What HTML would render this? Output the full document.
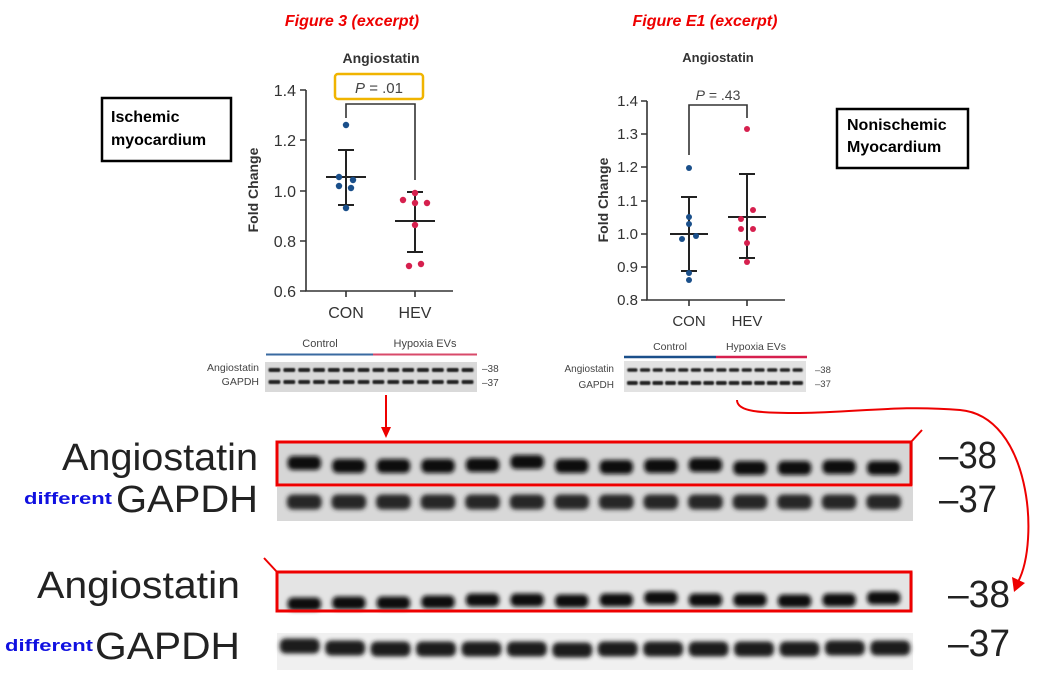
<!DOCTYPE html>
<html><head><meta charset="utf-8"><style>
html,body{margin:0;padding:0;background:#fff}
svg{display:block}
text{font-family:"Liberation Sans",Arial,sans-serif}
</style></head><body>
<svg id="s" width="1061" height="678" viewBox="0 0 1061 678" xmlns="http://www.w3.org/2000/svg">
<defs>
<filter id="b1" x="-20%" y="-50%" width="140%" height="200%"><feGaussianBlur stdDeviation="2.2"/></filter>
<filter id="b0" x="-20%" y="-50%" width="140%" height="200%"><feGaussianBlur stdDeviation="0.8"/></filter>
</defs>
<text x="352" y="26" font-size="16" font-weight="bold" font-style="italic" fill="#e00" text-anchor="middle">Figure 3 (excerpt)</text>
<text x="705" y="26" font-size="16" font-weight="bold" font-style="italic" fill="#e00" text-anchor="middle">Figure E1 (excerpt)</text>

<rect x="102" y="98" width="129" height="63" fill="#fff" stroke="#000" stroke-width="2.5"/>
<text x="111" y="122" font-size="16" font-weight="bold">Ischemic</text>
<text x="111" y="145" font-size="16" font-weight="bold">myocardium</text>
<rect x="837" y="109" width="131" height="59" fill="#fff" stroke="#000" stroke-width="2.5"/>
<text x="847" y="130" font-size="16" font-weight="bold">Nonischemic</text>
<text x="847" y="152" font-size="16" font-weight="bold">Myocardium</text>

<g stroke="#333" stroke-width="1.6" fill="none">
<path d="M306 90 V291 H453"/>
<path d="M300 90 H306 M300 140 H306 M300 191 H306 M300 241 H306 M300 291 H306"/>
<path d="M346 291 V297 M415 291 V297"/>
<path d="M346 118 V104 H415 V180"/>
</g>
<g font-size="16" fill="#333" text-anchor="end">
<text x="296" y="96">1.4</text><text x="296" y="146">1.2</text><text x="296" y="197">1.0</text><text x="296" y="247">0.8</text><text x="296" y="297">0.6</text>
</g>
<text x="346" y="318" font-size="16" fill="#333" text-anchor="middle">CON</text>
<text x="415" y="318" font-size="16" fill="#333" text-anchor="middle">HEV</text>
<text x="381" y="63" font-size="14" font-weight="bold" fill="#333" text-anchor="middle">Angiostatin</text>
<text transform="translate(258,190) rotate(-90)" font-size="14" font-weight="bold" fill="#333" text-anchor="middle">Fold Change</text>
<rect x="335" y="74" width="88" height="25" rx="3" fill="none" stroke="#f0b400" stroke-width="2.5"/>
<text x="379" y="93" font-size="15" fill="#444" text-anchor="middle"><tspan font-style="italic">P</tspan> = .01</text>
<g stroke="#222" stroke-width="2" fill="none">
<path d="M346 150 V205 M338 150 H354 M326 177 H366 M338 205 H354"/>
<path d="M415 192 V252 M407 192 H423 M395 221 H435 M407 252 H423"/>
</g>
<g fill="#1a4f8a">
<circle cx="346" cy="125" r="3.2"/><circle cx="339" cy="177" r="3.2"/><circle cx="353" cy="180" r="3.2"/>
<circle cx="339" cy="186" r="3.2"/><circle cx="351" cy="188" r="3.2"/><circle cx="346" cy="208" r="3.2"/>
</g>
<g fill="#d6204e">
<circle cx="415" cy="193" r="3.2"/><circle cx="403" cy="200" r="3.2"/><circle cx="415" cy="203" r="3.2"/>
<circle cx="427" cy="203" r="3.2"/><circle cx="415" cy="225" r="3.2"/><circle cx="409" cy="266" r="3.2"/><circle cx="421" cy="264" r="3.2"/>
</g>

<g stroke="#333" stroke-width="1.6" fill="none">
<path d="M647 101 V300 H785"/>
<path d="M641 101 H647 M641 134 H647 M641 167 H647 M641 201 H647 M641 234 H647 M641 267 H647 M641 300 H647"/>
<path d="M689 300 V306 M747 300 V306"/>
<path d="M689 155 V105 H747 V118"/>
</g>
<g font-size="15" fill="#333" text-anchor="end">
<text x="638" y="106">1.4</text><text x="638" y="139">1.3</text><text x="638" y="172">1.2</text><text x="638" y="206">1.1</text><text x="638" y="239">1.0</text><text x="638" y="272">0.9</text><text x="638" y="305">0.8</text>
</g>
<text x="689" y="326" font-size="15" fill="#333" text-anchor="middle">CON</text>
<text x="747" y="326" font-size="15" fill="#333" text-anchor="middle">HEV</text>
<text x="718" y="62" font-size="13" font-weight="bold" fill="#333" text-anchor="middle">Angiostatin</text>
<text transform="translate(608,200) rotate(-90)" font-size="14" font-weight="bold" fill="#333" text-anchor="middle">Fold Change</text>
<text x="718" y="100" font-size="14" fill="#444" text-anchor="middle"><tspan font-style="italic">P</tspan> = .43</text>
<g stroke="#222" stroke-width="2" fill="none">
<path d="M689 197 V271 M681 197 H697 M670 234 H708 M681 271 H697"/>
<path d="M747 174 V258 M739 174 H755 M728 217 H766 M739 258 H755"/>
</g>
<g fill="#1a4f8a">
<circle cx="689" cy="168" r="3"/><circle cx="689" cy="217" r="3"/><circle cx="689" cy="224" r="3"/>
<circle cx="682" cy="239" r="3"/><circle cx="696" cy="236" r="3"/><circle cx="689" cy="273" r="3"/><circle cx="689" cy="280" r="3"/>
</g>
<g fill="#d6204e">
<circle cx="747" cy="129" r="3"/><circle cx="741" cy="219" r="3"/><circle cx="753" cy="210" r="3"/>
<circle cx="741" cy="229" r="3"/><circle cx="753" cy="229" r="3"/><circle cx="747" cy="243" r="3"/><circle cx="747" cy="262" r="3"/>
</g>

<text x="320" y="347" font-size="11" fill="#444" text-anchor="middle">Control</text>
<text x="425" y="347" font-size="11" fill="#444" text-anchor="middle">Hypoxia EVs</text>
<path d="M266 354.5 H373" stroke="#3a6aa0" stroke-width="2"/><path d="M373 354.5 H477" stroke="#d84a6a" stroke-width="2"/>
<text x="259" y="371" font-size="10.5" fill="#444" text-anchor="end">Angiostatin</text>
<text x="259" y="385" font-size="10.5" fill="#444" text-anchor="end">GAPDH</text>
<text x="482" y="372" font-size="10" fill="#444">–38</text><text x="482" y="386" font-size="10" fill="#444">–37</text>

<text x="670" y="350" font-size="10.5" fill="#444" text-anchor="middle">Control</text>
<text x="756" y="350" font-size="10.5" fill="#444" text-anchor="middle">Hypoxia EVs</text>
<path d="M624 357 H716" stroke="#1a4f8a" stroke-width="2.5"/><path d="M716 357 H807" stroke="#d6204e" stroke-width="2.5"/>
<text x="614" y="372" font-size="10" fill="#444" text-anchor="end">Angiostatin</text>
<text x="614" y="388" font-size="10" fill="#444" text-anchor="end">GAPDH</text>
<text x="815" y="373" font-size="9.5" fill="#444">–38</text><text x="815" y="387" font-size="9.5" fill="#444">–37</text>

<g id="blots"></g>

<g fill="#222">
<text x="62" y="470" font-size="38" textLength="196" lengthAdjust="spacingAndGlyphs">Angiostatin</text>
<text x="116" y="512" font-size="38" textLength="142" lengthAdjust="spacingAndGlyphs">GAPDH</text>
<text x="939" y="468" font-size="38" textLength="58" lengthAdjust="spacingAndGlyphs">–38</text>
<text x="939" y="512" font-size="38" textLength="58" lengthAdjust="spacingAndGlyphs">–37</text>
<text x="37" y="598" font-size="38" textLength="203" lengthAdjust="spacingAndGlyphs">Angiostatin</text>
<text x="95" y="659" font-size="38" textLength="145" lengthAdjust="spacingAndGlyphs">GAPDH</text>
<text x="948" y="607" font-size="38" textLength="62" lengthAdjust="spacingAndGlyphs">–38</text>
<text x="948" y="656" font-size="38" textLength="62" lengthAdjust="spacingAndGlyphs">–37</text>
</g>
<text x="24" y="504" font-size="17" font-weight="bold" fill="#1010e0" textLength="88" lengthAdjust="spacingAndGlyphs">different</text>
<text x="5" y="651" font-size="17" font-weight="bold" fill="#1010e0" textLength="88" lengthAdjust="spacingAndGlyphs">different</text>

<rect x="277" y="442" width="634" height="43" fill="none" stroke="#e00" stroke-width="3"/>
<rect x="277" y="572" width="634" height="39" fill="none" stroke="#e00" stroke-width="3"/>
<path d="M911 442 L922 430" stroke="#e00" stroke-width="2"/>
<path d="M264 558 L277 572" stroke="#e00" stroke-width="2"/>
<path d="M386 395 V428" stroke="#e00" stroke-width="2"/>
<path d="M381 427 L386 438 L391 427 Z" fill="#e00"/>
<path d="M737 400 C737 412 760 413 800 413 C860 412 900 405 960 410 C1030 416 1040 540 1018 582" stroke="#e00" stroke-width="2" fill="none"/>
<path d="M1012 577 L1014 592 L1025 583 Z" fill="#e00"/>
</svg>
<script>
(function(){
var g=document.getElementById('blots'),NS='http://www.w3.org/2000/svg';
function el(t,a){var e=document.createElementNS(NS,t);for(var k in a)e.setAttribute(k,a[k]);g.appendChild(e);return e;}
function strip(x0,x1,y0,y1,bg){el('rect',{x:x0,y:y0,width:x1-x0,height:y1-y0,fill:bg});}
function bands(x0,x1,yc,h,col,f,dy,wf){var n=14,w=(x1-x0)/n;for(var i=0;i<n;i++){var off=dy?dy[i]:0;el('rect',{x:x0+w*i+w*(1-wf)/2,y:yc-h/2+off,width:w*wf,height:h,rx:h/2.5,fill:col,filter:'url(#'+f+')'});}}
strip(265,477,362,392,'#d9d9d9');
bands(267,475,370,4,'#222','b0',null,0.8);
bands(267,475,382,4,'#222','b0',null,0.8);
strip(624,806,361,392,'#e2e2e2');
bands(626,804,370,3.5,'#222','b0',null,0.8);
bands(626,804,383,4,'#222','b0',null,0.85);
strip(277,913,442,485,'#d6d6d6');
strip(277,913,487,521,'#d8d8d8');
bands(282,906,466,14,'#111','b1',[-3,0,0,0,-1,-4,0,1,0,-1,2,2,1,2],0.75);
bands(282,906,502,15,'#262626','b1',null,0.78);
strip(277,913,572,611,'#e4e4e4');
strip(277,913,633,670,'#f0f0f0');
bands(282,906,602,13,'#111','b1',[2,1,1,0,-2,-2,-1,-2,-4,-2,-2,-1,-2,-4],0.75);
bands(277,913,646,15,'#1c1c1c','b1',[0,2,3,3,3,3,4,3,3,3,3,3,2,2],0.88);
})();
</script>
</body></html>
